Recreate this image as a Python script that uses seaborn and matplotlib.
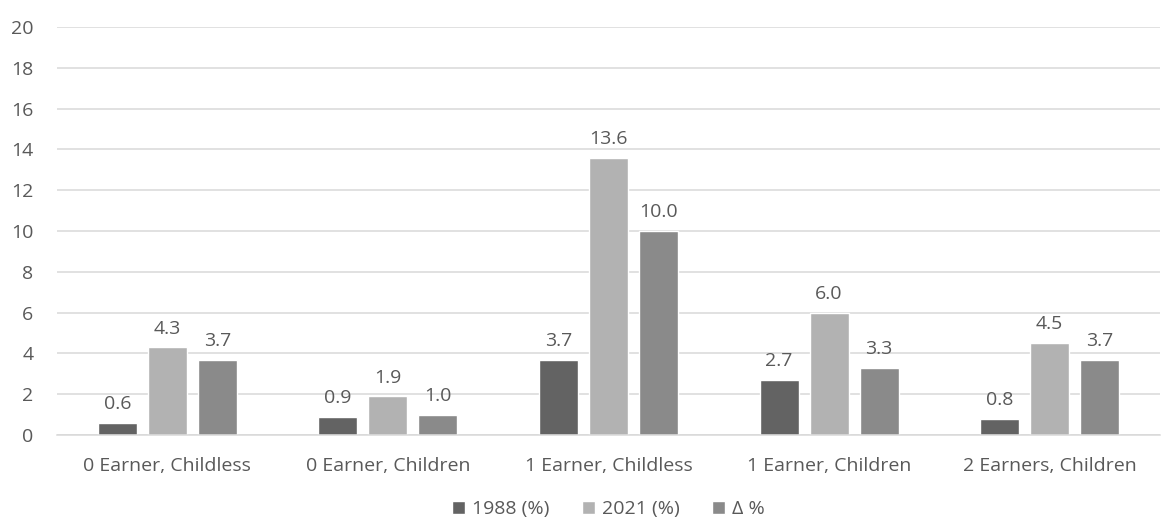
import matplotlib
matplotlib.use("Agg")
import matplotlib.pyplot as plt
import seaborn as sns
import pandas as pd

categories = ["0 Earner, Childless", "0 Earner, Children", "1 Earner, Childless",
              "1 Earner, Children", "2 Earners, Children"]
series_names = ["1988 (%)", "2021 (%)", "Δ %"]
values_1988 = [0.6, 0.9, 3.7, 2.7, 0.8]
values_2021 = [4.3, 1.9, 13.6, 6.0, 4.5]
values_delta = [3.7, 1.0, 10.0, 3.3, 3.7]
y_ticks = [0, 2, 4, 6, 8, 10, 12, 14, 16, 18, 20]

colors = ["#636363", "#b2b2b2", "#8a8a8a"]
text_color = "#595959"
font_size = 14

rows = []
for name, vals in zip(series_names, [values_1988, values_2021, values_delta]):
    for cat, v in zip(categories, vals):
        rows.append({"category": cat, "series": name, "value": v})
df = pd.DataFrame(rows)

sns.set_theme(style="white")
plt.rcParams["font.family"] = ["Open Sans", "DejaVu Sans"]

W, H = 1168, 529
fig = plt.figure(figsize=(W / 100, H / 100), dpi=100)
ax = fig.add_axes([57 / W, 1 - 435 / H, 1103 / W, 408 / H])

sns.barplot(data=df, x="category", y="value", hue="series", order=categories,
            hue_order=series_names, palette=colors, width=0.68, gap=0.22,
            saturation=1, errorbar=None, ax=ax, legend=True)

for container in ax.containers:
    ax.bar_label(container, fmt="%.1f", padding=7, fontsize=font_size, color=text_color)

ax.set_ylim(0, 20)
ax.set_yticks(y_ticks)
ax.set_xlim(-0.5, len(categories) - 0.5)
ax.yaxis.grid(True, color="#d9d9d9", linewidth=1.1)
ax.set_axisbelow(True)
for side in ["left", "right", "top"]:
    ax.spines[side].set_visible(False)
ax.spines["bottom"].set_color("#d9d9d9")
ax.spines["bottom"].set_linewidth(1.1)
ax.tick_params(axis="both", length=0, labelsize=font_size, colors=text_color)
ax.tick_params(axis="x", pad=16)
ax.tick_params(axis="y", pad=17)
ax.set_xlabel("")
ax.set_ylabel("")

handles, labels = ax.get_legend_handles_labels()
ax.legend(handles, labels, loc="center", bbox_to_anchor=(0.5, (435 - 509) / 408),
          ncol=3, frameon=False, fontsize=font_size, handlelength=0.65, handleheight=0.65,
          handletextpad=0.35, columnspacing=1.7, labelcolor=text_color)

fig.savefig("out.png", dpi=100)
